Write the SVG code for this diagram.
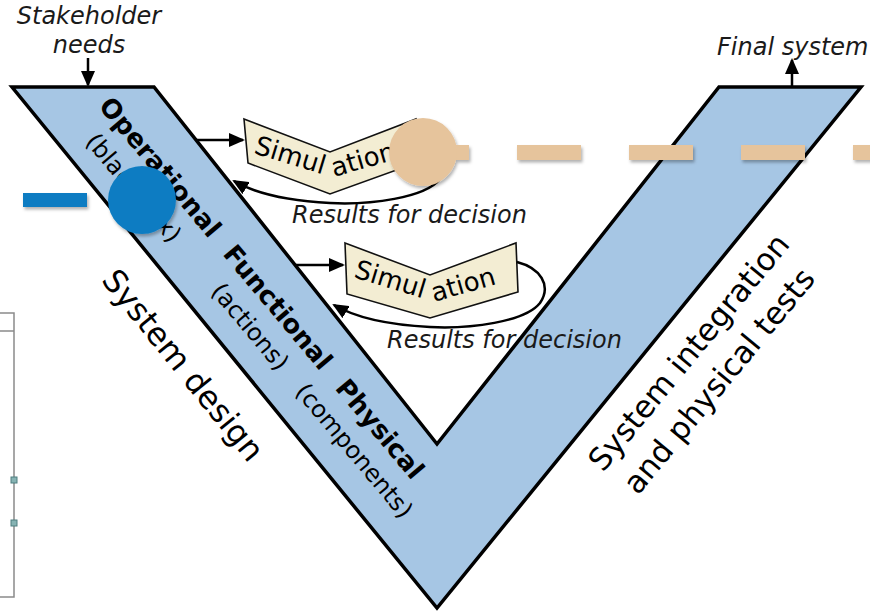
<svg xmlns="http://www.w3.org/2000/svg" width="870" height="612" viewBox="0 0 870 612">
<style>
text{font-family:"DejaVu Sans",Verdana,sans-serif;fill:#000}
.it{font-style:italic;font-size:24px;fill:#1a1a1a}
.b{font-weight:bold;font-size:26px}
.p{font-size:24px}
.big{font-size:32px}
.rt{font-size:31px}
.sim{font-size:26px}
.vee{fill:#a6c6e4;stroke:#000;stroke-width:3.5;stroke-linejoin:miter}
.simbox{fill:#f3edd3;stroke:#111;stroke-width:1.6;stroke-linejoin:miter}
.arr{fill:none;stroke:#000;stroke-width:2.5}
.tan{fill:#e6c49c}
.blu{fill:#0b7cc2}
</style>
<defs>
<marker id="ah" markerUnits="userSpaceOnUse" markerWidth="16" markerHeight="14" viewBox="0 0 16 14" refX="14" refY="7" orient="auto">
<path d="M0,0 L16,7 L0,14 z" fill="#000"/>
</marker>
<filter id="sh" filterUnits="userSpaceOnUse" x="0" y="0" width="870" height="612">
<feDropShadow dx="1.5" dy="2.5" stdDeviation="1.8" flood-color="#000" flood-opacity="0.3"/>
</filter>
</defs>

<g id="sidebox">
<rect x="-2" y="313" width="16" height="284" fill="#fff" stroke="#8a8a8a" stroke-width="1.5"/>
<line x1="-2" y1="331" x2="14" y2="331" stroke="#8a8a8a" stroke-width="1.5"/>
<rect x="11" y="477" width="6" height="6" fill="#86b3b3" stroke="#4f7f80" stroke-width="1"/>
<rect x="11" y="520" width="6" height="6" fill="#86b3b3" stroke="#4f7f80" stroke-width="1"/>
</g>

<g id="vmodel">
<polygon class="vee" points="12,87 154,87 437,444 719,87 861,87 437,608"/>
</g>

<g id="left-arm-labels">
<g transform="translate(100,106) rotate(50)">
<text class="b" x="-1" y="2">Operational</text>
<text class="b" x="192" y="2">Functional</text>
<text class="b" x="367" y="2">Physical</text>
<text class="p" x="17.5" y="35">(black box)</text>
<text class="p" x="213" y="35">(actions)</text>
<text class="p" x="344" y="35">(components)</text>
</g>
</g>

<g id="system-design">
<text class="big" transform="translate(100.5,280.5) rotate(51)">System design</text>
</g>

<g id="system-integration">
<text class="rt" transform="translate(603,473) rotate(-50.5)">System integration</text>
<text class="rt" transform="translate(638,496) rotate(-50.5)">and physical tests</text>
</g>

<g id="stakeholder">
<text class="it" x="89" y="24" text-anchor="middle">Stakeholder</text>
<text class="it" x="89" y="53" text-anchor="middle">needs</text>
</g>

<g id="final-system">
<text class="it" x="717" y="55">Final system</text>
</g>

<g id="simulation-1">
<polygon class="simbox" points="244,119 330,152 416,119 416,163 330,194 248,163"/>
<text class="sim" transform="translate(253,153) rotate(17)">Simul</text>
<text class="sim" transform="translate(334,177) rotate(-16)">ation</text>
</g>

<g id="simulation-2">
<polygon class="simbox" points="345,243 430,275 516,243 518,292 430,318 347,294"/>
<text class="sim" transform="translate(353,277) rotate(17)">Simul</text>
<text class="sim" transform="translate(434,302) rotate(-16)">ation</text>
</g>

<g id="results-labels">
<text class="it" x="292" y="223">Results for decision</text>
<text class="it" x="387" y="348">Results for decision</text>
</g>

<g id="connectors">
<line class="arr" x1="88" y1="58" x2="88" y2="85" marker-end="url(#ah)"/>
<line class="arr" x1="792" y1="87" x2="792" y2="60" marker-end="url(#ah)"/>
<line class="arr" x1="196" y1="140" x2="243" y2="140" marker-end="url(#ah)"/>
<line class="arr" x1="296" y1="265" x2="343" y2="265" marker-end="url(#ah)"/>
<path class="arr" d="M417,138 C440,144 452,161 440,179 C425,198 370,205 330,203 C292,201 256,194 234,181" marker-end="url(#ah)"/>
<path class="arr" d="M517,262 C540,268 552,285 540,303 C525,322 470,329 430,327 C392,325 356,318 334,305" marker-end="url(#ah)"/>
</g>

<g id="overlay-marks" filter="url(#sh)">
<rect class="tan" x="405" y="145" width="64" height="15"/>
<rect class="tan" x="517" y="145" width="64" height="15"/>
<rect class="tan" x="629" y="145" width="64" height="15"/>
<rect class="tan" x="741" y="145" width="64" height="15"/>
<rect class="tan" x="853" y="145" width="30" height="15"/>
<circle class="tan" cx="423" cy="152" r="34"/>
<rect class="blu" x="23" y="193" width="64" height="14"/>
<circle class="blu" cx="142" cy="200" r="34"/>
</g>
</svg>
